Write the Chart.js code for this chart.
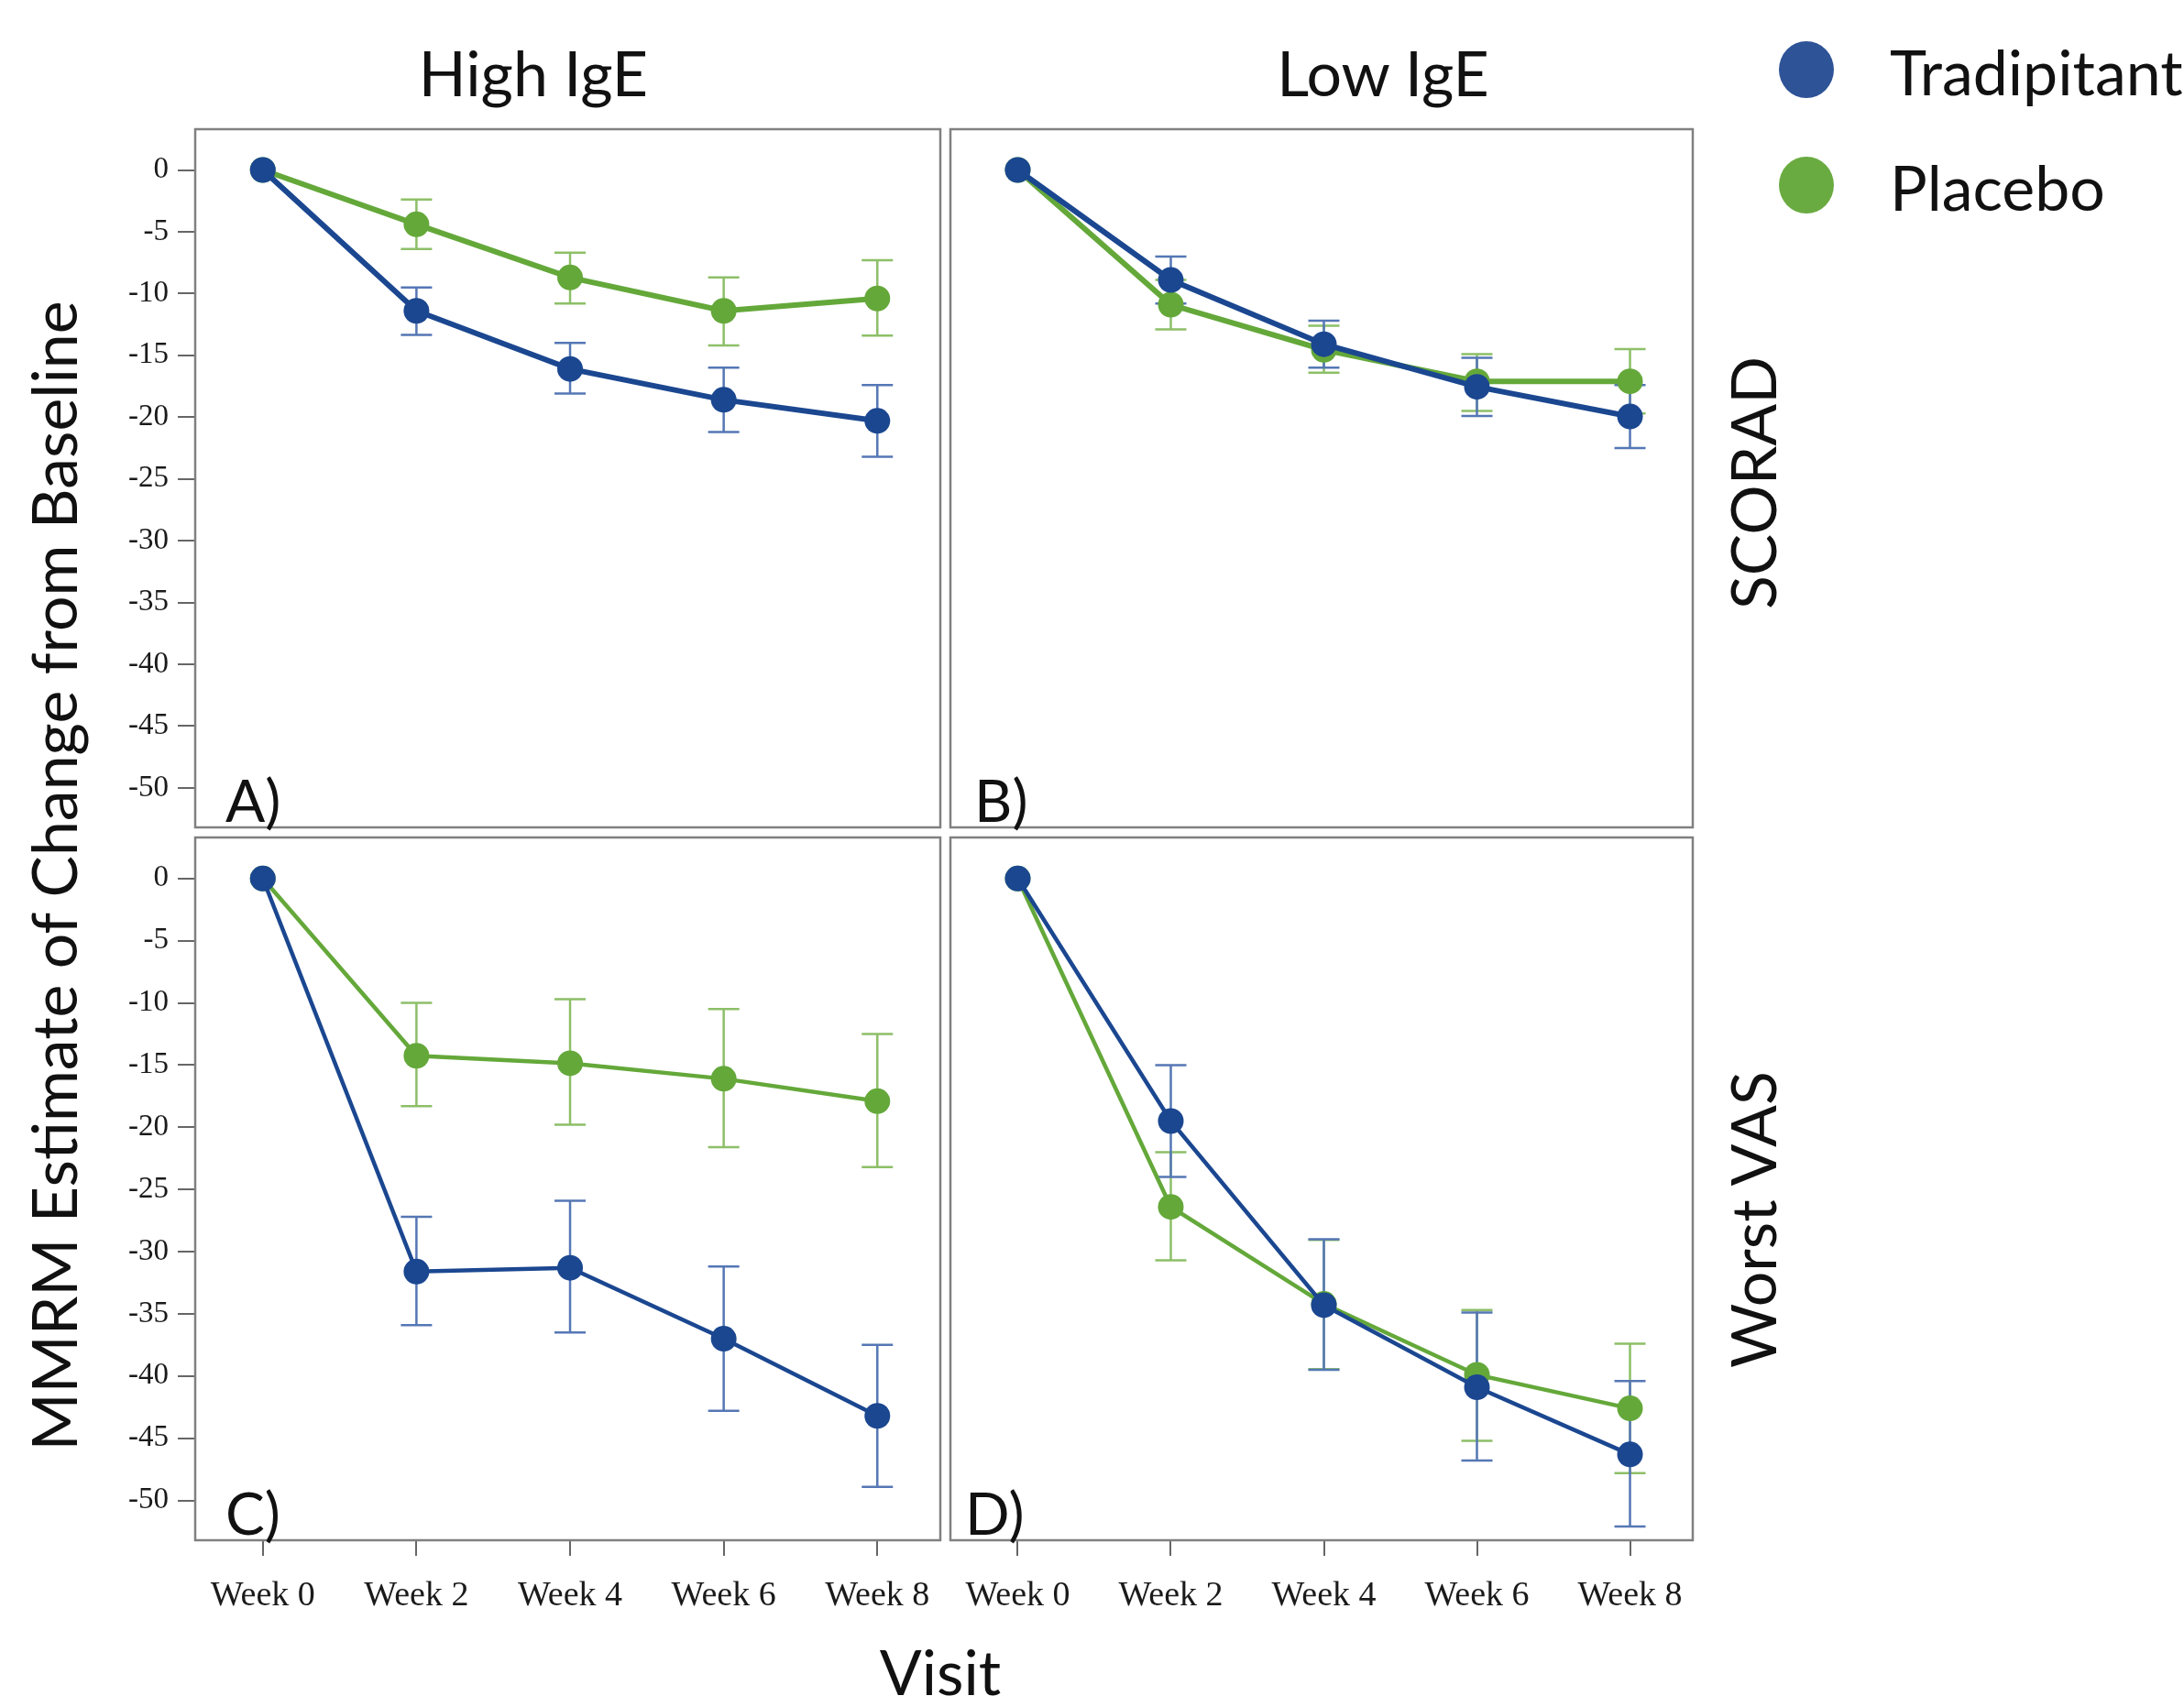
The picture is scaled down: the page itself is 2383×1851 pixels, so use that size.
<!DOCTYPE html>
<html>
<head>
<meta charset="utf-8">
<script src="https://cdn.jsdelivr.net/npm/chart.js@4.4.1/dist/chart.umd.min.js"></script>
<style>
  html, body { margin:0; padding:0; background:#fff; }
  body { width:2383px; height:1851px; position:relative; overflow:hidden; font-family:Lato, 'Open Sans', sans-serif; color:#111; }
  canvas { position:absolute; }
  .lbl { position:absolute; white-space:nowrap; font-size:68px; line-height:1; transform:translate(-50%,-50%); }
  .rot { transform:translate(-50%,-50%) rotate(-90deg); }
  .dot { position:absolute; width:60px; height:62px; border-radius:50%; }
  .leg { position:absolute; white-space:nowrap; font-size:68px; line-height:1; transform:translateY(-50%); }
</style>
</head>
<body>
  <div class="lbl" style="left:582px; top:79px;">High IgE</div>
  <div class="lbl" style="left:1509px; top:79px;">Low IgE</div>
  <div class="dot" style="left:1941px; top:45px; background:#2e5397;"></div>
  <div class="leg" style="left:2062px; top:78px;">Tradipitant</div>
  <div class="dot" style="left:1941px; top:171px; background:#6aab41;"></div>
  <div class="leg" style="left:2062px; top:204px;">Placebo</div>
  <div class="lbl rot" style="left:58px; top:956px;">MMRM Estimate of Change from Baseline</div>
  <div class="lbl" style="left:1026px; top:1824px;">Visit</div>
  <div class="lbl rot" style="left:1912px; top:527px;">SCORAD</div>
  <div class="lbl rot" style="left:1912px; top:1331px;">Worst VAS</div>

  <canvas id="cA" width="940" height="790" style="left:100px; top:127px;"></canvas>
  <canvas id="cB" width="838" height="790" style="left:1023px; top:127px;"></canvas>
  <canvas id="cC" width="940" height="880" style="left:100px; top:900px;"></canvas>
  <canvas id="cD" width="838" height="880" style="left:1023px; top:900px;"></canvas>

<script>
const weeks = ['Week 0', 'Week 2', 'Week 4', 'Week 6', 'Week 8'];
const yTicks = [0, -5, -10, -15, -20, -25, -30, -35, -40, -45, -50];

// A) High IgE, SCORAD
const highScoradTrad   = [0, -11.4, -16.1, -18.6, -20.3];
const highScoradTradHi = [null, -9.5, -14.0, -16.0, -17.4];
const highScoradTradLo = [null, -13.35, -18.1, -21.2, -23.2];
const highScoradPbo    = [0, -4.4, -8.7, -11.4, -10.4];
const highScoradPboHi  = [null, -2.4, -6.7, -8.7, -7.3];
const highScoradPboLo  = [null, -6.4, -10.8, -14.2, -13.4];

// B) Low IgE, SCORAD
const lowScoradTrad    = [0, -8.9, -14.1, -17.55, -19.95];
const lowScoradTradHi  = [null, -7.0, -12.2, -15.2, -17.4];
const lowScoradTradLo  = [null, -10.8, -16.0, -19.9, -22.5];
const lowScoradPbo     = [0, -10.9, -14.55, -17.1, -17.1];
const lowScoradPboHi   = [null, -8.9, -12.6, -14.9, -14.5];
const lowScoradPboLo   = [null, -12.9, -16.4, -19.5, -19.7];

// C) High IgE, Worst VAS
const highVasTrad      = [0, -31.6, -31.3, -37.0, -43.2];
const highVasTradHi    = [null, -27.2, -25.9, -31.2, -37.5];
const highVasTradLo    = [null, -35.9, -36.5, -42.8, -48.9];
const highVasPbo       = [0, -14.25, -14.85, -16.1, -17.9];
const highVasPboHi     = [null, -10.0, -9.7, -10.5, -12.5];
const highVasPboLo     = [null, -18.3, -19.8, -21.6, -23.2];

// D) Low IgE, Worst VAS
const lowVasTrad       = [0, -19.5, -34.3, -40.9, -46.3];
const lowVasTradHi     = [null, -15.0, -29.0, -34.9, -40.4];
const lowVasTradLo     = [null, -24.0, -39.5, -46.8, -52.1];
const lowVasPbo        = [0, -26.4, -34.2, -39.9, -42.6];
const lowVasPboHi      = [null, -22.0, -29.05, -34.7, -37.4];
const lowVasPboLo      = [null, -30.7, -39.45, -45.2, -47.8];

const BLUE = '#1b4790', BLUE_ERR = '#5577b5';
const GREEN = '#64a83a', GREEN_ERR = '#8dbf68';

const errorBars = {
  id: 'errorBars',
  beforeDatasetsDraw(chart) {
    const { ctx, scales: { x, y } } = chart;
    chart.data.datasets.slice().reverse().forEach(ds => {
      ctx.save();
      ctx.strokeStyle = ds.errColor;
      ctx.lineWidth = 2.5;
      ds.errLo.forEach((lo, i) => {
        if (lo == null) return;
        const px = x.getPixelForValue(i);
        const y1 = y.getPixelForValue(lo), y2 = y.getPixelForValue(ds.errHi[i]);
        ctx.beginPath();
        ctx.moveTo(px, y1); ctx.lineTo(px, y2);
        ctx.moveTo(px - 17, y1); ctx.lineTo(px + 17, y1);
        ctx.moveTo(px - 17, y2); ctx.lineTo(px + 17, y2);
        ctx.stroke();
      });
      ctx.restore();
    });
  }
};

const frame = {
  id: 'frame',
  beforeDatasetsDraw(chart) {
    const { ctx, chartArea: a } = chart;
    ctx.save();
    ctx.strokeStyle = '#808080';
    ctx.lineWidth = 2.5;
    ctx.strokeRect(a.left, a.top, a.right - a.left, a.bottom - a.top);
    ctx.restore();
  },
  afterDraw(chart, args, opts) {
    const { ctx, chartArea: a } = chart;
    ctx.save();
    ctx.fillStyle = '#111';
    ctx.font = '64px Lato';
    ctx.textBaseline = 'alphabetic';
    ctx.fillText(opts.letter, a.left + opts.dx, a.bottom - 6);
    ctx.restore();
  }
};

function pts(arr) { return arr.map((v, i) => ({ x: i, y: v })); }

function makePanel(id, letter, dx, showX, showY, lw, trad, tradHi, tradLo, pbo, pboHi, pboLo) {
  new Chart(document.getElementById(id), {
    type: 'line',
    data: {
      datasets: [
        { label: 'Tradipitant', data: pts(trad), errHi: tradHi, errLo: tradLo, errColor: BLUE_ERR,
          borderColor: BLUE, backgroundColor: BLUE, pointBackgroundColor: BLUE, borderWidth: lw,
          pointRadius: 14, pointBorderWidth: 0, tension: 0 },
        { label: 'Placebo', data: pts(pbo), errHi: pboHi, errLo: pboLo, errColor: GREEN_ERR,
          borderColor: GREEN, backgroundColor: GREEN, pointBackgroundColor: GREEN, borderWidth: lw,
          pointRadius: 14, pointBorderWidth: 0, tension: 0 }
      ]
    },
    options: {
      responsive: false, animation: false, devicePixelRatio: 1,
      layout: { padding: { top: 10, right: 10, bottom: showX ? 0 : 10, left: showY ? 0 : 10 } },
      plugins: { legend: { display: false }, tooltip: { enabled: false }, frame: { letter, dx } },
      scales: {
        x: {
          type: 'linear', min: -0.44, max: 4.41, display: showX,
          afterBuildTicks: s => { s.ticks = weeks.map((w, i) => ({ value: i })); },
          afterFit: s => {
            s.paddingLeft = 0; s.paddingRight = 0;
            if (showX) s.height = 99;
          },
          ticks: { callback: v => weeks[Math.round(v)], font: { family: 'Liberation Serif', size: 38 },
                   color: '#1a1a1a', padding: 21, maxRotation: 0, autoSkip: false },
          grid: { drawOnChartArea: false, drawTicks: true, tickLength: 17, color: '#666', lineWidth: 2 },
          border: { display: false }
        },
        y: {
          type: 'linear', min: -53.2, max: 3.3, display: showY,
          afterBuildTicks: s => { s.ticks = yTicks.map(v => ({ value: v })); },
          afterFit: s => {
            s.paddingTop = 0; s.paddingBottom = 0;
            if (showY) s.width = 113;
          },
          ticks: { callback: v => String(v), font: { family: 'Liberation Serif', size: 33 },
                   color: '#1a1a1a', padding: 10 },
          grid: { drawOnChartArea: false, drawTicks: true, tickLength: 19, color: '#666', lineWidth: 2 },
          border: { display: false }
        }
      }
    },
    plugins: [errorBars, frame]
  });
}

makePanel('cA', 'A)', 33, false, true, 6, highScoradTrad, highScoradTradHi, highScoradTradLo, highScoradPbo, highScoradPboHi, highScoradPboLo);
makePanel('cB', 'B)', 26, false, false, 6, lowScoradTrad, lowScoradTradHi, lowScoradTradLo, lowScoradPbo, lowScoradPboHi, lowScoradPboLo);
makePanel('cC', 'C)', 33, true, true, 4.5, highVasTrad, highVasTradHi, highVasTradLo, highVasPbo, highVasPboHi, highVasPboLo);
makePanel('cD', 'D)', 16, true, false, 4.5, lowVasTrad, lowVasTradHi, lowVasTradLo, lowVasPbo, lowVasPboHi, lowVasPboLo);
</script>
</body>
</html>
